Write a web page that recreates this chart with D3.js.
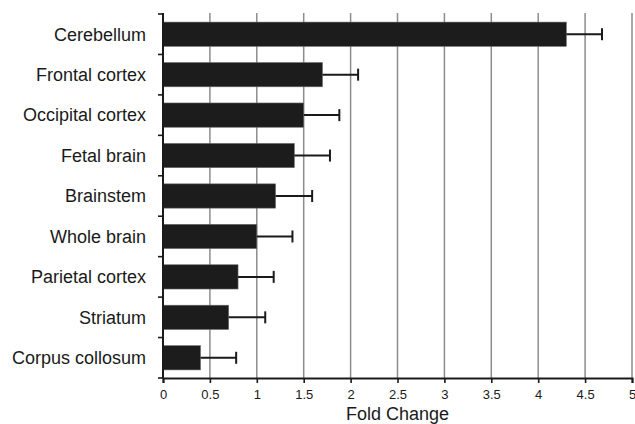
<!DOCTYPE html>
<html>
<head>
<meta charset="utf-8">
<script src="https://cdn.jsdelivr.net/npm/d3@7"></script>
<style>
  body { margin: 0; background: #fff; }
  svg text { font-family: "Liberation Sans", Arial, sans-serif; fill: #1a1a1a; }
</style>
</head>
<body>
<div id="chart"></div>
<script>
////// DATA
var regions = ["Cerebellum", "Frontal cortex", "Occipital cortex", "Fetal brain",
    "Brainstem", "Whole brain", "Parietal cortex", "Striatum", "Corpus collosum"];
var foldChange = [4.3, 1.7, 1.5, 1.4, 1.2, 1.0, 0.8, 0.7, 0.4];
var errorBars = [0.38, 0.38, 0.38, 0.38, 0.39, 0.38, 0.38, 0.39, 0.38];
var xTicks = [0, 0.5, 1, 1.5, 2, 2.5, 3, 3.5, 4, 4.5, 5];

////// SETUP SVG
var width = 635, height = 424;
var margin = { top: 14, right: 3, bottom: 46, left: 163 };
var innerW = width - margin.left - margin.right,
    innerH = height - margin.top - margin.bottom;

var svg = d3.select("#chart").append("svg")
    .attr("width", width)
    .attr("height", height)
    .append("g")
    .attr("transform", "translate(" + margin.left + "," + margin.top + ")");

var data = regions.map(function(r, i) {
    return { name: r, value: foldChange[i], err: errorBars[i] };
});

////// SCALES
var x = d3.scaleLinear().domain([0, 5]).range([0, innerW]);
var y = d3.scaleBand().domain(regions).range([0, innerH]).paddingInner(0.4).paddingOuter(0.2);
var yEdges = d3.scaleLinear().domain([0, regions.length]).range([0, innerH]);

// Vertical gridlines
svg.append("g").selectAll("line")
    .data(xTicks.slice(1))
    .enter().append("line")
    .attr("x1", function(d) { return x(d); })
    .attr("x2", function(d) { return x(d); })
    .attr("y1", -1)
    .attr("y2", innerH)
    .attr("stroke", "#8c8c8c")
    .attr("stroke-width", 1.5);

////// BARS
svg.append("g").selectAll("rect")
    .data(data)
    .enter().append("rect")
    .attr("x", 0)
    .attr("y", function(d) { return y(d.name); })
    .attr("width", function(d) { return x(d.value); })
    .attr("height", y.bandwidth())
    .attr("fill", "#1c1c1c")
    .attr("stroke", "#6a6a6a")
    .attr("stroke-width", 0.6);

// Error bars
var err = svg.append("g").selectAll("g")
    .data(data)
    .enter().append("g")
    .attr("stroke", "#1a1a1a")
    .attr("stroke-width", 2);
err.append("line")
    .attr("x1", function(d) { return x(d.value); })
    .attr("x2", function(d) { return x(d.value + d.err); })
    .attr("y1", function(d) { return y(d.name) + y.bandwidth() / 2; })
    .attr("y2", function(d) { return y(d.name) + y.bandwidth() / 2; });
err.append("line")
    .attr("x1", function(d) { return x(d.value + d.err); })
    .attr("x2", function(d) { return x(d.value + d.err); })
    .attr("y1", function(d) { return y(d.name) + y.bandwidth() / 2 - 6; })
    .attr("y2", function(d) { return y(d.name) + y.bandwidth() / 2 + 6; });

////// AXES
// Y axis: ticks on band edges, labels centred on bands
var yAx = svg.append("g");
yAx.append("line")
    .attr("x1", 0).attr("x2", 0)
    .attr("y1", -1).attr("y2", innerH)
    .attr("stroke", "#1a1a1a").attr("stroke-width", 2);
yAx.selectAll(".edge")
    .data(d3.range(regions.length + 1))
    .enter().append("line")
    .attr("class", "edge")
    .attr("x1", -5).attr("x2", 0)
    .attr("y1", function(d) { return yEdges(d); })
    .attr("y2", function(d) { return yEdges(d); })
    .attr("stroke", "#1a1a1a").attr("stroke-width", 1.6);
yAx.selectAll("text")
    .data(regions)
    .enter().append("text")
    .attr("x", -17)
    .attr("y", function(d) { return y(d) + y.bandwidth() / 2; })
    .attr("dy", "0.35em")
    .attr("text-anchor", "end")
    .attr("font-size", "18px")
    .text(function(d) { return d; });

// X axis
var xAx = svg.append("g")
    .attr("transform", "translate(0," + innerH + ")")
    .call(d3.axisBottom(x).tickValues(xTicks).tickSize(5).tickPadding(7)
        .tickFormat(d3.format("")));
xAx.select(".domain").attr("stroke", "#1a1a1a").attr("stroke-width", 2);
xAx.selectAll(".tick line").attr("stroke", "#1a1a1a").attr("stroke-width", 1.6);
xAx.selectAll("text")
    .attr("font-size", "13px")
    .attr("font-family", "Liberation Sans, Arial, sans-serif")
    .attr("fill", "#1a1a1a");

svg.append("text")
    .attr("x", innerW / 2)
    .attr("y", innerH + 42)
    .attr("text-anchor", "middle")
    .attr("font-size", "18px")
    .text("Fold Change");
</script>
</body>
</html>
